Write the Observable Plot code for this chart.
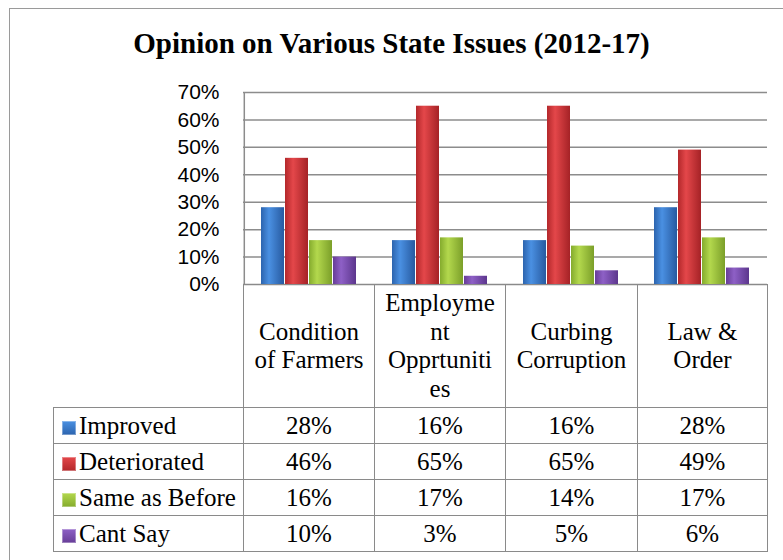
<!DOCTYPE html>
<html><head><meta charset="utf-8">
<script src="https://cdn.jsdelivr.net/npm/d3@7"></script>
<script src="https://cdn.jsdelivr.net/npm/@observablehq/plot@0.6"></script>
<style>
html,body{margin:0;padding:0;background:#fff;}
#wrap{position:relative;width:783px;height:560px;overflow:hidden;background:#fff;}
#frame{position:absolute;left:9px;top:8px;width:900px;height:700px;border:1.5px solid #9a9a9a;box-sizing:border-box;}
#title{position:absolute;left:0;width:783px;top:29px;text-align:center;font-family:"Liberation Serif","Tinos","Times New Roman",serif;font-weight:bold;font-size:29px;color:#000;line-height:29px;white-space:nowrap;}
#chart{position:absolute;left:0;top:0;}
#tbl{position:absolute;left:53px;top:284px;border-collapse:collapse;table-layout:fixed;font-family:"Liberation Serif","Tinos","Times New Roman",serif;font-size:25px;color:#000;}
#tbl td{border:1.5px solid #8a8a8a;text-align:center;padding:0;white-space:nowrap;}
#tbl tr.head td{height:122px;line-height:28.5px;vertical-align:middle;}
#tbl tr.data td{height:35px;line-height:35px;}
#tbl td.blank{border:none;}
#tbl td.lab{text-align:left;padding-left:8px;}
.sq{display:inline-block;width:14px;height:14px;margin-right:3px;vertical-align:-1px;}
</style>
</head>
<body>
<svg width="0" height="0" style="position:absolute">
  <defs>
    <linearGradient id="g-imp" x1="0" x2="1" y1="0" y2="0">
      <stop offset="0" stop-color="#2c64ae"/><stop offset="0.35" stop-color="#4a90e2"/><stop offset="1" stop-color="#275aa0"/>
    </linearGradient>
    <linearGradient id="g-det" x1="0" x2="1" y1="0" y2="0">
      <stop offset="0" stop-color="#b3282b"/><stop offset="0.35" stop-color="#e4474a"/><stop offset="1" stop-color="#a52226"/>
    </linearGradient>
    <linearGradient id="g-same" x1="0" x2="1" y1="0" y2="0">
      <stop offset="0" stop-color="#84ab2d"/><stop offset="0.35" stop-color="#b3d84d"/><stop offset="1" stop-color="#7b9f29"/>
    </linearGradient>
    <linearGradient id="g-cant" x1="0" x2="1" y1="0" y2="0">
      <stop offset="0" stop-color="#673d97"/><stop offset="0.35" stop-color="#8e60c6"/><stop offset="1" stop-color="#5c368d"/>
    </linearGradient>
  </defs>
</svg>
<div id="wrap">
  <div id="frame"></div>
  <div id="title"></div>
  <div id="chart"></div>
  <table id="tbl"></table>
</div>
<script>
const titleText = "Opinion on Various State Issues (2012-17)";
const categories = ["Condition of Farmers", "Employment Opprtunities", "Curbing Corruption", "Law & Order"];
const categoryLines = [["Condition", "of Farmers"], ["Employme", "nt", "Opprtuniti", "es"], ["Curbing", "Corruption"], ["Law &", "Order"]];
const series = ["Improved", "Deteriorated", "Same as Before", "Cant Say"];
const improved = [28, 16, 16, 28];
const deteriorated = [46, 65, 65, 49];
const sameAsBefore = [16, 17, 14, 17];
const cantSay = [10, 3, 5, 6];
const yTicks = [0, 10, 20, 30, 40, 50, 60, 70];
const seriesFills = ["url(#g-imp)", "url(#g-det)", "url(#g-same)", "url(#g-cant)"];
const swatchColors = [["#2c64ae", "#4a90e2"], ["#b3282b", "#e4474a"], ["#84ab2d", "#b3d84d"], ["#673d97", "#8e60c6"]];

const valuesBySeries = [improved, deteriorated, sameAsBefore, cantSay];
const rows = series.flatMap((s, si) => categories.map((c, ci) => ({category: c, series: s, value: valuesBySeries[si][ci]})));

document.getElementById("title").textContent = titleText;

const chart = Plot.plot({
  width: 783,
  height: 290,
  marginLeft: 243,
  marginRight: 16,
  marginTop: 92,
  marginBottom: 6,
  style: {background: "none", fontFamily: "'Liberation Sans', Arial, sans-serif", fontSize: "21px", color: "#000", overflow: "visible"},
  fx: {domain: categories, padding: 0, axis: null, label: null},
  x: {domain: series, paddingInner: 0.06, paddingOuter: 0.7, axis: null, label: null},
  y: {domain: [0, 70], label: null},
  color: {domain: series, range: seriesFills},
  marks: [
    Plot.ruleY(yTicks, {stroke: "#8c8c8c", strokeWidth: 1.5}),
    Plot.ruleX([{category: categories[0], series: series[0]}], {fx: "category", x: "series", y1: 0, y2: 70, dx: -28.7, stroke: "#8c8c8c", strokeWidth: 1.5}),
    Plot.barY(rows, {fx: "category", x: "series", y: "value", fill: "series"}),
    Plot.axisY(yTicks, {anchor: "left", tickSize: 0, tickPadding: 24, tickFormat: d => d + "%", fontSize: 21, label: null})
  ]
});
document.getElementById("chart").appendChild(chart);

// data table below the chart
const tbl = d3.select("#tbl");
const cg = tbl.append("colgroup");
[190, 131, 131, 132, 130].forEach(w => cg.append("col").style("width", w + "px"));
const head = tbl.append("tr").attr("class", "head");
head.append("td").attr("class", "blank");
categoryLines.forEach(lines => {
  const td = head.append("td");
  lines.forEach((l, i) => { if (i) td.append("br"); td.append(() => document.createTextNode(l)); });
});
series.forEach((s, si) => {
  const tr = tbl.append("tr").attr("class", "data");
  const lab = tr.append("td").attr("class", "lab");
  lab.append("span").attr("class", "sq")
    .style("background", `linear-gradient(180deg, ${swatchColors[si][1]}, ${swatchColors[si][0]})`)
    .style("box-shadow", "inset 0 0 0 1px rgba(255,255,255,0.35)");
  lab.append(() => document.createTextNode(s));
  valuesBySeries[si].forEach(v => tr.append("td").text(v + "%"));
});
</script>
</body></html>
